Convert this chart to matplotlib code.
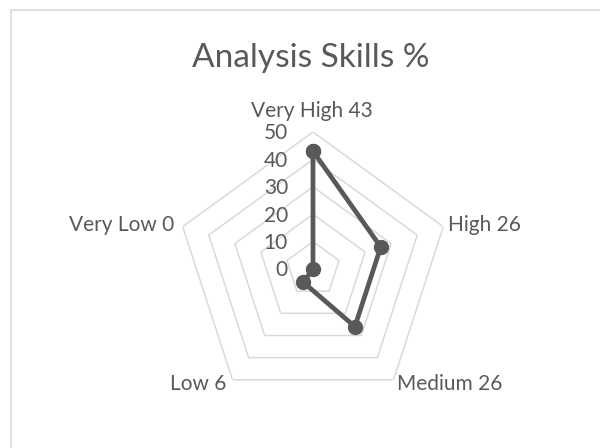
import numpy as np
import matplotlib
matplotlib.use("Agg")
import matplotlib.pyplot as plt
from matplotlib.patches import Rectangle

categories = ["Very High", "High", "Medium", "Low", "Very Low"]
values = [43, 26, 26, 6, 0]
r_ticks = [0, 10, 20, 30, 40, 50]

plt.rcParams["font.family"] = ["Lato", "DejaVu Sans"]
TXT = "#595959"

fig = plt.figure(figsize=(6, 4.48), dpi=100)
# chart area border (runs off the right and bottom edge)
fig.patches.append(Rectangle((11 / 600, -0.1), 1.2, 1 - 10 / 448 + 0.1,
                             transform=fig.transFigure, fill=False,
                             edgecolor="#d9d9d9", linewidth=1.2))

ax = fig.add_axes([0.2933, 0.0938, 0.4567, 0.6116], projection="polar")
ax.set_theta_zero_location("N")
ax.set_theta_direction(-1)
ax.set_ylim(0, 50)
ax.grid(False)
ax.spines["polar"].set_visible(False)
ax.set_xticks([])
ax.set_yticks([])
ax.patch.set_alpha(0)

theta = np.deg2rad(np.arange(len(categories)) * 360 / len(categories))
theta_closed = np.append(theta, theta[0])

# pentagon gridlines
for r in r_ticks[1:]:
    ax.plot(theta_closed, [r] * len(theta_closed), color="#d9d9d9", lw=1.1, zorder=1)

vals_closed = values + values[:1]
ax.plot(theta_closed, vals_closed, color=TXT, lw=3.4, marker="o", ms=10, zorder=3)

# radial tick labels
for r in r_ticks:
    ax.annotate(str(r), (0, r), xytext=(-18, -5.4), textcoords="offset points",
                ha="right", va="baseline", fontsize=15, color=TXT)

# category labels
offsets = [(-1, 10.8, "center"), (3.6, -2.9, "left"), (2.2, -7.2, "left"),
           (-4.3, -7.2, "right"), (-5.8, -2.9, "right")]
for t, cat, v, (dx, dy, ha) in zip(theta, categories, values, offsets):
    ax.annotate(f"{cat} {v}", (t, 50), xytext=(dx, dy), textcoords="offset points",
                ha=ha, va="baseline", fontsize=15, color=TXT, annotation_clip=False)

fig.text(310.5 / 600, 1 - 67 / 448, "Analysis Skills %", ha="center", va="baseline",
         fontsize=24, color=TXT)

fig.savefig("out.png", dpi=100)
